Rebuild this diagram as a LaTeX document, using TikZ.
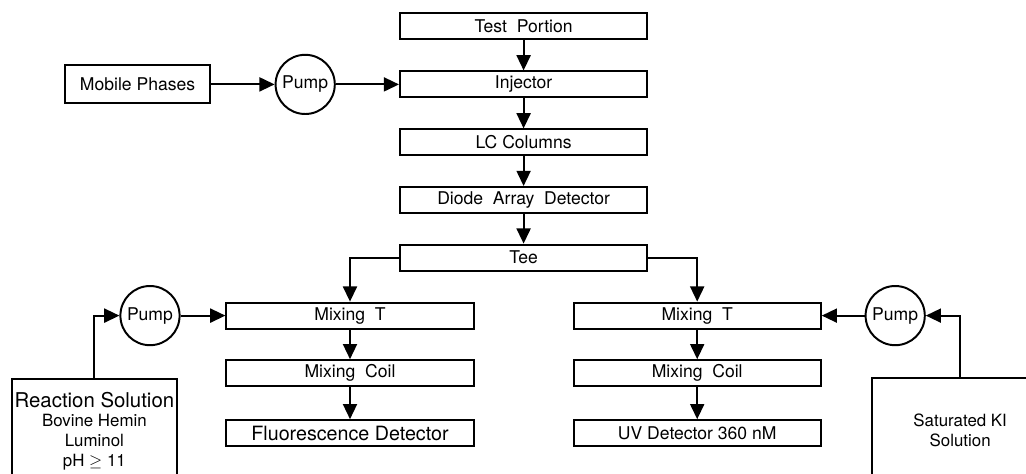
\documentclass[tikz,border=0pt]{standalone}
\usepackage{fontspec}
\setmainfont{TeX Gyre Heros}
\usepackage{tikz}
\usetikzlibrary{arrows.meta}
\tikzset{
	>={Triangle[length=3.8mm,width=3.5mm]},
}
\tikzstyle{unit}=[draw,line width=1.4pt,minimum width=6.18cm,minimum height=.65cm,
    inner sep=0pt,font=\fontsize{12.5}{15}\selectfont]
\tikzstyle{pump}=[draw,circle,line width=1.4pt,minimum size=1.48cm,inner sep=0pt,
    font=\fontsize{12.5}{15}\selectfont]
\tikzstyle{supply}=[draw,line width=1.4pt,inner sep=0pt,align=center,
    font=\fontsize{12}{14}\selectfont]
\tikzstyle{flow}=[->,line width=1.4pt]

\begin{document}
\begin{tikzpicture}
      \useasboundingbox (0,0) rectangle (25.65,-11.825);
      % main line
      \node[unit] (test) at (13.09,-0.66) {Test\ \ Portion};
      \node[unit] (inj) at (13.09,-2.11) {Injector};
      \node[unit] (lc) at (13.09,-3.56) {LC Columns};
      \node[unit] (dad) at (13.09,-5.0) {Diode\ \ Array\ \ Detector};
      \node[unit] (tee) at (13.09,-6.44) {Tee};
      \node[unit,minimum width=3.63cm,minimum height=.95cm] (mob) at (3.44,-2.11) {Mobile Phases};
      \node[pump] (pumpT) at (7.63,-2.11) {Pump};
      % left branch
      \node[unit] (mixL) at (8.75,-7.89) {Mixing\ \ T};
      \node[unit] (coilL) at (8.75,-9.33) {Mixing\ \ Coil};
      \node[unit,font=\fontsize{14}{16}\selectfont] (fluo) at (8.75,-10.83) {Fluorescence Detector};
      \node[pump] (pumpL) at (3.75,-7.89) {Pump};
      \node[supply,anchor=north,minimum width=4.13cm,minimum height=2.6cm] (react) at (2.36,-9.45)
        {{\fontsize{14.5}{16}\selectfont Reaction Solution}\\Bovine Hemin\\Luminol\\pH $\geq$ 11};
      % right branch
      \node[unit] (mixR) at (17.43,-7.89) {Mixing\ \ T};
      \node[unit] (coilR) at (17.43,-9.33) {Mixing\ \ Coil};
      \node[unit] (uv) at (17.43,-10.83) {UV\ Detector\ 360\ nM};
      \node[pump] (pumpR) at (22.38,-7.89) {Pump};
      \node[supply,anchor=north west,minimum width=4.4cm,minimum height=2.6cm] (ki) at (21.78,-9.43)
        {Saturated KI\\Solution};
      \draw[flow] (test)--(inj);
      \draw[flow] (inj)--(lc);
      \draw[flow] (lc)--(dad);
      \draw[flow] (dad)--(tee);
      \draw[flow] (mob)--(pumpT);
      \draw[flow] (pumpT)--(inj);
      \draw[flow] (tee.west) -| (mixL);
      \draw[flow] (tee.east) -| (mixR);
      \draw[flow] (mixL)--(coilL);
      \draw[flow] (coilL)--(fluo);
      \draw[flow] (mixR)--(coilR);
      \draw[flow] (coilR)--(uv);
      \draw[flow] (react.north) |- (pumpL);
      \draw[flow] (pumpL)--(mixL);
      \draw[flow] (ki.north) |- (pumpR);
      \draw[flow] (pumpR)--(mixR);
    \end{tikzpicture}
\end{document}
